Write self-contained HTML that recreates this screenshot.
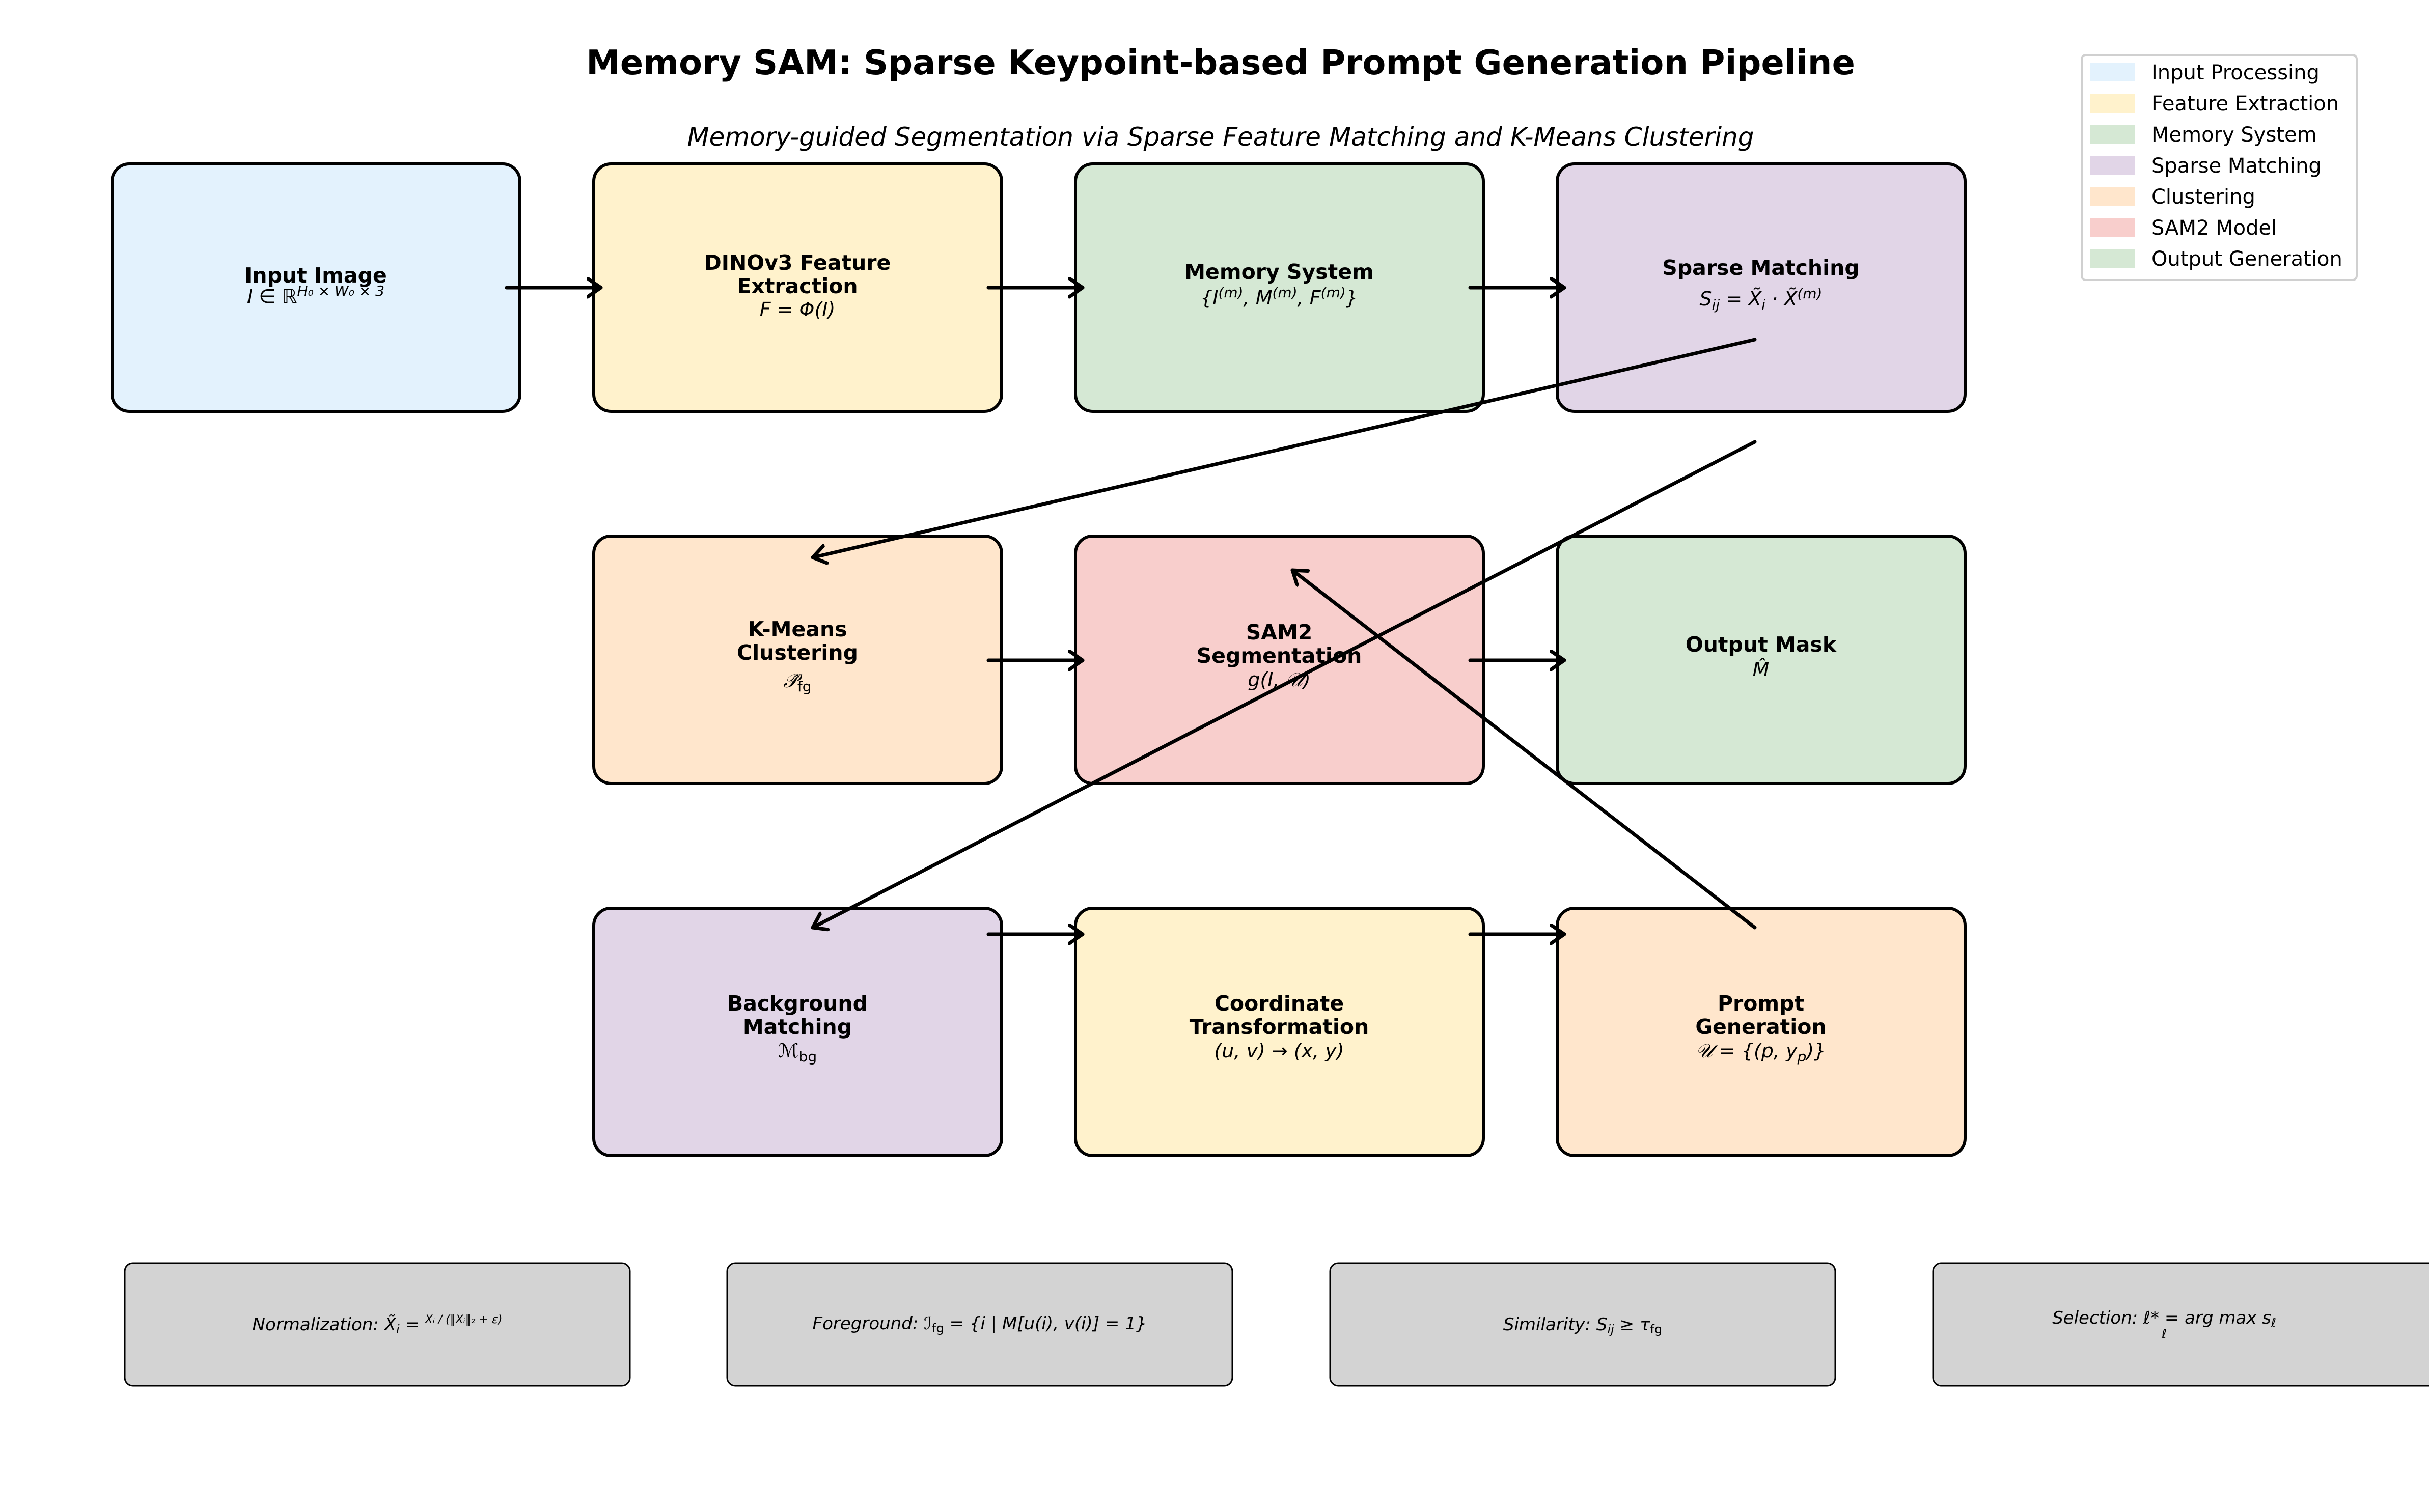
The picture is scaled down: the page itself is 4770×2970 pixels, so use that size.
<!DOCTYPE html>
<html><head><meta charset="utf-8"><style>
html,body{margin:0;padding:0;background:#fff;}
svg{display:block;}
text{font-family:"DejaVu Sans","Liberation Sans",sans-serif;fill:#000;}
.t{font-weight:bold;font-size:41px;text-anchor:middle;}
.m{font-style:italic;font-size:38px;text-anchor:middle;}
.b{font-style:italic;font-size:34px;text-anchor:middle;}
.lg{font-size:40px;}
</style></head><body>
<svg width="4770" height="2970" viewBox="0 0 4770 2970" xmlns="http://www.w3.org/2000/svg">
<defs>
<marker id="a" markerUnits="userSpaceOnUse" markerWidth="60" markerHeight="60" refX="28" refY="20" orient="auto">
<path d="M2,2 L28,20 L2,38" fill="none" stroke="#000" stroke-width="7" stroke-linecap="round" stroke-linejoin="round"/>
</marker>
</defs>
<text x="2397" y="146" class="t" style="font-size:67px">Memory SAM: Sparse Keypoint-based Prompt Generation Pipeline</text>
<text x="2397" y="286" class="m" style="font-size:50px">Memory-guided Segmentation via Sparse Feature Matching and K-Means Clustering</text>

<!-- legend -->
<rect x="4088" y="108" width="540" height="442" rx="8" fill="#fff" stroke="#d0d0d0" stroke-width="4"/>
<g class="lg">
<rect x="4105" y="124" width="88" height="36" fill="#e3f2fd"/><text x="4225" y="156">Input Processing</text>
<rect x="4105" y="185" width="88" height="36" fill="#fff2cc"/><text x="4225" y="217">Feature Extraction</text>
<rect x="4105" y="246" width="88" height="36" fill="#d5e8d4"/><text x="4225" y="278">Memory System</text>
<rect x="4105" y="307" width="88" height="36" fill="#e1d5e7"/><text x="4225" y="339">Sparse Matching</text>
<rect x="4105" y="368" width="88" height="36" fill="#ffe6cc"/><text x="4225" y="400">Clustering</text>
<rect x="4105" y="429" width="88" height="36" fill="#f8cecc"/><text x="4225" y="461">SAM2 Model</text>
<rect x="4105" y="490" width="88" height="36" fill="#d5e8d4"/><text x="4225" y="522">Output Generation</text>
</g>

<g stroke="#000" stroke-width="6">
<rect x="220" y="322" width="801" height="486" rx="34" fill="#e3f2fd"/>
<rect x="1166" y="322" width="801" height="486" rx="34" fill="#fff2cc"/>
<rect x="2112" y="322" width="801" height="486" rx="34" fill="#d5e8d4"/>
<rect x="3058" y="322" width="801" height="486" rx="34" fill="#e1d5e7"/>
<rect x="1166" y="1053" width="801" height="486" rx="34" fill="#ffe6cc"/>
<rect x="2112" y="1053" width="801" height="486" rx="34" fill="#f8cecc"/>
<rect x="3058" y="1053" width="801" height="486" rx="34" fill="#d5e8d4"/>
<rect x="1166" y="1784" width="801" height="486" rx="34" fill="#e1d5e7"/>
<rect x="2112" y="1784" width="801" height="486" rx="34" fill="#fff2cc"/>
<rect x="3058" y="1784" width="801" height="486" rx="34" fill="#ffe6cc"/>
</g>
<g stroke="#000" stroke-width="3" fill="#d3d3d3">
<rect x="245" y="2481" width="992" height="241" rx="16"/>
<rect x="1428" y="2481" width="992" height="241" rx="16"/>
<rect x="2612" y="2481" width="992" height="241" rx="16"/>
<rect x="3796" y="2481" width="992" height="241" rx="16"/>
</g>

<!-- node text -->
<text x="620" y="555" class="t">Input Image</text>
<text x="620" y="595" class="m">I ∈ ℝ<tspan dy="-14" font-size="28">H₀ × W₀ × 3</tspan></text>
<text x="1566" y="530" class="t">DINOv3 Feature</text>
<text x="1566" y="576" class="t">Extraction</text>
<text x="1566" y="621" class="m">F = Φ(I)</text>
<text x="2512" y="548" class="t">Memory System</text>
<text x="2512" y="598" class="m">{I<tspan dy="-14" font-size="28">(m)</tspan><tspan dy="14">, M</tspan><tspan dy="-14" font-size="28">(m)</tspan><tspan dy="14">, F</tspan><tspan dy="-14" font-size="28">(m)</tspan><tspan dy="14">}</tspan></text>
<text x="3458" y="540" class="t">Sparse Matching</text>
<text x="3458" y="600" class="m">S<tspan dy="8" font-size="28">ij</tspan><tspan dy="-8"> = X̃</tspan><tspan dy="8" font-size="28">i</tspan><tspan dy="-8"> · X̃</tspan><tspan dy="-14" font-size="28">(m)</tspan></text>

<text x="1566" y="1250" class="t">K-Means</text>
<text x="1566" y="1296" class="t">Clustering</text>
<text x="1566" y="1350" class="m">𝒫̂<tspan dy="8" font-size="28" font-style="normal">fg</tspan></text>
<text x="2512" y="1256" class="t">SAM2</text>
<text x="2512" y="1302" class="t">Segmentation</text>
<text x="2512" y="1348" class="m">g(I, 𝒰)</text>
<text x="3458" y="1280" class="t">Output Mask</text>
<text x="3458" y="1328" class="m">M̂</text>

<text x="1566" y="1985" class="t">Background</text>
<text x="1566" y="2031" class="t">Matching</text>
<text x="1566" y="2077" class="m">ℳ<tspan dy="8" font-size="28" font-style="normal">bg</tspan></text>
<text x="2512" y="1985" class="t">Coordinate</text>
<text x="2512" y="2031" class="t">Transformation</text>
<text x="2512" y="2077" class="m">(u, v) → (x, y)</text>
<text x="3458" y="1985" class="t">Prompt</text>
<text x="3458" y="2031" class="t">Generation</text>
<text x="3458" y="2077" class="m">𝒰 = {(p, y<tspan dy="8" font-size="28">p</tspan><tspan dy="-8">)}</tspan></text>

<!-- bottom text -->
<text x="741" y="2613" class="b">Normalization: X̃<tspan dy="6" font-size="24">i</tspan><tspan dy="-6"> = </tspan><tspan dy="-14" font-size="22">Xᵢ / (‖Xᵢ‖₂ + ε)</tspan></text>
<text x="1924" y="2611" class="b">Foreground: ℐ<tspan dy="6" font-size="24" font-style="normal">fg</tspan><tspan dy="-6"> = {i | M[u(i), v(i)] = 1}</tspan></text>
<text x="3108" y="2613" class="b">Similarity: S<tspan dy="6" font-size="24">ij</tspan><tspan dy="-6"> ≥ τ</tspan><tspan dy="6" font-size="24" font-style="normal">fg</tspan></text>
<text x="4250" y="2600" class="b">Selection: ℓ* = arg max s<tspan dy="6" font-size="24">ℓ</tspan></text>
<text x="4250" y="2628" class="b" style="font-size:24px">ℓ</text>

<!-- arrows -->
<g stroke="#000" stroke-width="7" fill="none" stroke-linecap="round" marker-end="url(#a)">
<line x1="995" y1="565" x2="1180" y2="565"/>
<line x1="1941" y1="565" x2="2126" y2="565"/>
<line x1="2887" y1="565" x2="3072" y2="565"/>
<line x1="1941" y1="1297" x2="2126" y2="1297"/>
<line x1="2887" y1="1297" x2="3072" y2="1297"/>
<line x1="1941" y1="1835" x2="2126" y2="1835"/>
<line x1="2887" y1="1835" x2="3072" y2="1835"/>
<line x1="3446" y1="667" x2="1596" y2="1095"/>
<line x1="3446" y1="868" x2="1596" y2="1822"/>
<line x1="3446" y1="1822" x2="2538" y2="1120"/>
</g>
</svg>
</body></html>
